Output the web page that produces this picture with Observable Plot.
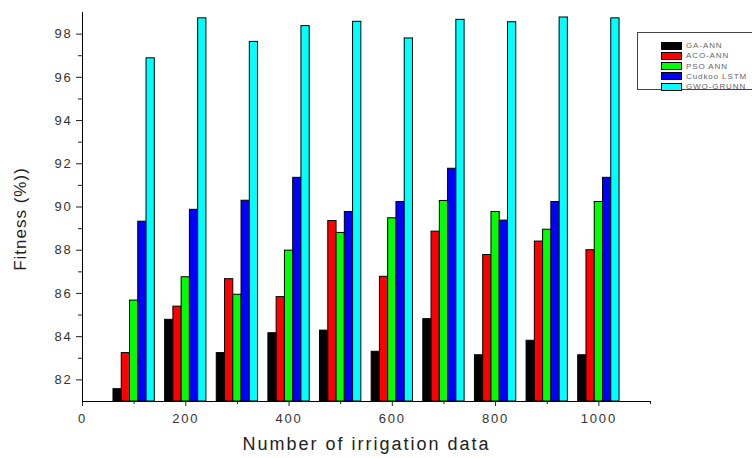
<!DOCTYPE html>
<html><head><meta charset="utf-8">
<script src="https://cdn.jsdelivr.net/npm/d3@7"></script>
<script src="https://cdn.jsdelivr.net/npm/@observablehq/plot@0.6"></script>
<style>
body{margin:0;background:#fff;font-family:"Liberation Sans",Arial,sans-serif;}
#wrap{position:relative;width:752px;height:458px;}
#legend{position:absolute;left:637px;top:32px;width:130px;height:58px;border:1px solid #444;background:#fff;box-sizing:border-box;}
.row{position:absolute;left:23px;height:9px;display:flex;align-items:center;font-size:8px;letter-spacing:0.9px;color:#666;white-space:nowrap;}
.sw{width:21px;height:8px;border:1px solid #000;box-sizing:border-box;margin-right:4px;}
</style></head>
<body><div id="wrap"></div>
<script>
const groups = [100,200,300,400,500,600,700,800,900,1000];
const series = ["GA-ANN","ACO-ANN","PSO ANN","Cudkoo LSTM","GWO-GRUNN"];
const colors = ["#000000","#ff0000","#00ff00","#0000ff","#00ffff"];
const gaAnn     = [81.57,84.78,83.24,84.16,84.28,83.30,84.81,83.14,83.81,83.14];
const acoAnn    = [83.24,85.39,86.66,85.83,89.35,86.77,88.86,87.78,88.40,88.00];
const psoAnn    = [85.67,86.75,85.94,87.98,88.80,89.48,90.28,89.77,88.95,90.23];
const cuckooLstm= [89.32,89.87,90.29,91.35,89.77,90.23,91.77,89.37,90.23,91.35];
const gwoGrunn  = [96.88,98.73,97.64,98.37,98.57,97.80,98.66,98.55,98.77,98.73];
const values = [gaAnn,acoAnn,psoAnn,cuckooLstm,gwoGrunn];
const xTicks = [0,200,400,600,800,1000];
const yTicks = [82,84,86,88,90,92,94,96,98];

const barW = 16;
const yBase = 81;
const data = [];
series.forEach((s,k)=>groups.forEach((g,i)=>data.push({s,k,g,v:values[k][i]})));

const font = "Liberation Sans, Arial, sans-serif";
const chart = Plot.plot({
  width:752, height:458,
  marginLeft:82, marginRight:102, marginTop:12, marginBottom:57,
  style:{fontFamily:font, fontSize:"13px", color:"#222", background:"#fff"},
  x:{domain:[0,1100]},
  y:{domain:[81,99]},
  color:{domain:series, range:colors},
  marks:[
    Plot.rectY(data,{x1:d=>d.g+(d.k-2.5)*barW, x2:d=>d.g+(d.k-1.5)*barW, y1:yBase, y2:"v", fill:"s", stroke:"#000", strokeWidth:1}),
    Plot.axisY({ticks:yTicks, tickSize:6, tickPadding:4, fontSize:13, fill:"#333", label:"Fitness (%))", labelAnchor:"center", labelArrow:"none", labelOffset:69}),
    Plot.axisY({ticks:d3.range(83,99,2), tickSize:4, tickFormat:()=>"", label:null}),
    Plot.axisX({ticks:xTicks, tickSize:5, tickPadding:7, tickFormat:d3.format("d"), fill:"#333", label:"Number of irrigation data", labelAnchor:"center", labelArrow:"none", labelOffset:48}),
    Plot.axisX({ticks:[100,300,500,700,900,1100], tickSize:3, tickFormat:()=>"", label:null}),
    Plot.ruleX([0],{y1:81,y2:99,stroke:"#000"}),
    Plot.ruleY([81],{x1:0,x2:1100,stroke:"#000"})
  ]
});
chart.querySelectorAll('g[aria-label="y-axis tick label"] text, g[aria-label="x-axis tick label"] text').forEach(t=>{t.style.letterSpacing="1.8px";});
chart.querySelectorAll('g[aria-label="y-axis label"] text').forEach(t=>{
  t.style.fontSize="17px";t.style.fill="#222";t.style.letterSpacing="1px";
  t.setAttribute("transform",(t.getAttribute("transform")||"")+" translate(-12,0)");
});
chart.querySelectorAll('g[aria-label="x-axis label"] text').forEach(t=>{t.style.fontSize="18px";t.style.fill="#222";t.style.letterSpacing="2px";});
const wrap = document.getElementById("wrap");
wrap.appendChild(chart);
const lg = document.createElement("div"); lg.id="legend";
series.forEach((s,k)=>{
  const r=document.createElement("div"); r.className="row"; r.style.top=(8+k*10.3)+"px";
  r.innerHTML=`<div class="sw" style="background:${colors[k]}"></div><span>${s}</span>`;
  lg.appendChild(r);
});
wrap.appendChild(lg);
</script></body></html>
